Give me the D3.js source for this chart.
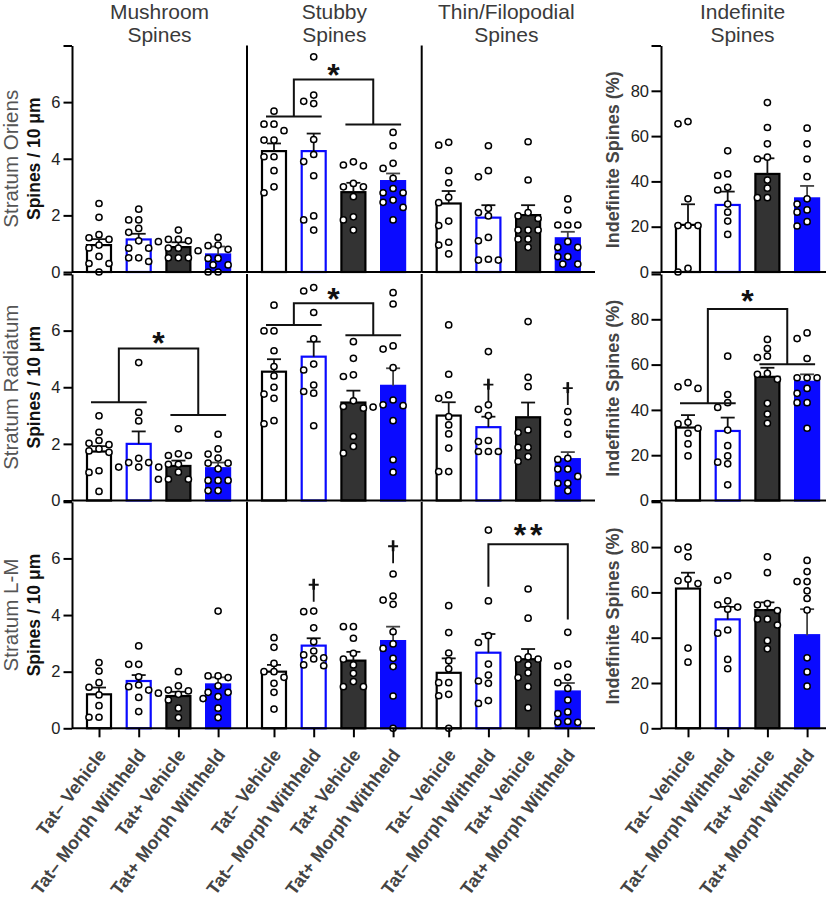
<!DOCTYPE html>
<html><head><meta charset="utf-8">
<script src="https://cdn.jsdelivr.net/npm/d3@7"></script>
<style>body{margin:0;background:#fff} text{font-family:"Liberation Sans",Arial,Helvetica,sans-serif}</style>
</head><body><svg id="chart" width="837" height="903"></svg>
<script>
// ---------------- DATA ----------------
const groups = ["Tat\u2013 Vehicle", "Tat\u2013 Morph Withheld", "Tat+ Vehicle", "Tat+ Morph Withheld"];
const columnTitles = [["Mushroom","Spines"],["Stubby","Spines"],["Thin/Filopodial","Spines"],["Indefinite","Spines"]];
const strata = ["Stratum Oriens","Stratum Radiatum","Stratum L-M"];
const spineAxisLabel = "Spines / 10 \u03bcm";
const pctAxisLabel = "Indefinite Spines (%)";
const spineTicks = [0,2,4,6,8];
const pctTicks = [0,20,40,60,80,100];

// means per column (mushroom, stubby, thin, indefinite) x group
const meanOriens   = [[0.95,1.15,0.88,0.62],[4.27,4.27,2.82,3.21],[2.42,1.92,2.01,1.19],[20.8,29.6,43.3,32.5]];
const semTopOriens = [[1.16,1.35,1.05,0.90],[4.54,4.89,3.15,3.48],[2.86,2.36,2.36,1.42],[29.9,35.5,50.2,38.0]];
const meanRadiatum   = [[1.73,2.00,1.22,1.14],[4.55,5.08,3.46,4.05],[3.00,2.59,2.94,1.46],[32.2,30.7,54.6,52.4]];
const semTopRadiatum = [[1.92,2.44,1.41,1.34],[4.99,5.61,3.88,4.67],[3.47,2.96,3.46,1.71],[37.7,36.6,58.6,55.7]];
const meanLM   = [[1.20,1.67,1.14,1.55],[2.00,2.92,2.39,3.08],[1.96,2.67,2.44,1.30],[61.7,48.1,52.2,41.1]];
const semTopLM = [[1.44,1.88,1.29,1.80],[2.24,3.18,2.70,3.59],[2.47,3.33,2.80,1.60],[68.7,53.6,55.6,52.6]];

const ptsOriens = [
  [[2.42,1.93,1.32,1.21,1.15,0.95,0.85,0.55,0.3,0.3,0.0],
   [2.22,1.84,1.84,1.54,1.4,1.1,0.84,0.84,0.5,0.5,0.37],
   [1.48,1.15,1.15,1.1,1.07,0.84,0.84,0.5,0.5,0.5],
   [1.22,0.95,0.93,0.8,0.75,0.48,0.48,0.25,0.25,0.0,0.0]],
  [[5.68,5.22,5.22,4.99,4.66,4.66,4.07,4.07,3.58,3.01,2.8],
   [7.6,6.25,6.03,5.95,4.68,4.15,3.9,3.4,1.98,1.84,1.48],
   [3.89,3.78,3.75,3.13,3.01,3.01,2.66,1.95,1.84,1.48],
   [4.93,4.46,3.84,3.66,3.31,2.95,2.8,2.8,2.54,2.46,2.28,1.84]],
  [[4.58,4.48,3.58,3.15,2.64,2.45,1.8,1.64,1.05,0.95,0.64],
   [4.46,3.58,3.36,2.25,2.1,1.98,1.22,1.1,0.45,0.42,0.42],
   [4.6,3.25,2.1,1.98,1.89,1.48,1.48,1.48,1.16,1.16,0.87],
   [2.58,2.19,1.66,1.66,1.66,1.07,0.87,0.87,0.54,0.54,0.28,0.28]],
  [[66.4,65.4,32.3,20.5,20.5,20.5,1.6,0],
   [53.5,43.3,42.6,37.4,36.2,30.0,26.4,22.5,16.6],
   [74.8,63.8,56.6,50.7,49.9,40.6,37.0,32.8,32.8],
   [63.5,56.6,49.9,42.1,32.3,30.0,27.4,26.4,22.2,20.3]]
];
const ptsRadiatum = [
  [[2.99,2.41,2.12,2.02,1.97,1.82,1.75,1.7,1.05,0.99,0.32],
   [4.87,3.11,2.81,1.49,1.34,1.34,1.18,1.18,1.18],
   [2.53,1.65,1.59,1.59,1.28,1.28,1.0,0.75,0.75,0.75],
   [2.34,1.82,1.64,1.5,1.32,1.32,1.12,0.71,0.71,0.71,0.35,0.35]],
  [[6.9,5.99,5.99,5.29,4.73,4.4,4.0,3.76,3.61,2.82,2.71],
   [7.52,7.4,6.64,5.71,4.82,4.61,4.08,3.85,3.79,2.64],
   [5.61,5.02,4.44,4.38,3.52,3.32,3.26,2.26,1.91,1.67],
   [7.34,6.94,5.46,5.35,4.69,3.55,3.38,3.35,3.3,2.82,1.44,1.0]],
  [[6.2,4.46,3.73,3.61,2.96,2.67,2.35,1.85,1.02,1.02],
   [5.26,3.38,3.22,3.0,2.12,2.08,1.73,1.73,1.73],
   [6.32,4.35,4.02,2.49,2.4,1.88,1.88,1.55,1.38],
   [3.14,2.76,2.34,1.49,1.45,1.11,1.11,0.85,0.61,0.61,0.34]],
  [[52.0,50.2,49.5,34.5,33.8,31.9,29.7,25.0,19.7],
   [63.7,46.8,43.2,41.1,31.1,24.2,19.7,16.9,16.2,6.9],
   [71.1,67.1,63.7,63.1,56.1,55.7,53.5,42.9,38.2,34.1],
   [74.0,71.5,62.7,54.2,54.2,54.2,49.5,47.3,43.2,43.2,31.9]]
];
const ptsLM = [
  [[2.32,2.02,1.61,1.45,1.18,0.8,0.39,0.39],
   [2.91,2.26,2.26,1.82,1.53,1.47,1.35,1.09,0.59],
   [2.0,1.5,1.35,1.32,1.24,1.2,1.0,0.71,0.38],
   [4.14,1.85,1.85,1.79,1.5,1.27,1.27,1.12,1.05,0.71,0.38]],
  [[3.2,2.86,2.29,2.0,2.0,1.8,1.59,1.27,0.68],
   [4.14,4.12,3.55,3.06,2.73,2.59,2.49,2.45,2.24,2.21],
   [3.59,3.59,3.18,2.65,2.44,2.24,1.94,1.65,1.47,1.47],
   [5.45,4.67,4.53,4.38,3.41,2.98,2.82,2.47,2.18,1.14,0]],
  [[4.33,3.38,2.66,2.39,2.1,1.61,1.61,1.2,1.15,0],
   [7.0,4.5,3.27,3.03,2.27,1.88,1.67,1.59,0.98,0.88],
   [4.92,3.89,2.52,2.44,2.44,2.24,1.96,1.79,1.47,0.73],
   [3.39,2.27,2.2,1.8,1.61,1.41,1.0,0.58,0.52,0.24,0.21,0.21]],
  [[80.0,79.0,75.7,65.8,65.1,63.9,35.4,29.2],
   [67.3,65.4,56.3,54.5,53.5,52.6,43.4,42.0,30.4,26.3],
   [75.7,68.7,55.1,54.5,52.0,48.2,48.2,45.6,38.7,35.1],
   [74.1,69.2,64.8,64.8,60.7,57.3,52.2,31.1,24.9,18.6]]
];

// significance annotations (values in data units)
const pairBrackets = [
  {row:0,col:1,yLeft:5.49,yRight:5.21,yTop:6.8,yLabel:7.2,label:"*"},
  {row:1,col:0,yLeft:3.47,yRight:3.02,yTop:5.37,yLabel:5.82,label:"*"},
  {row:1,col:1,yLeft:6.2,yRight:5.84,yTop:6.97,yLabel:7.35,label:"*"},
  {row:1,col:3,yLeft:42.9,yRight:60.2,yTop:84.5,yLabel:91.3,label:"*"}
];
const simpleBrackets = [
  {row:2,col:2,g1:1,g2:3,y1:5.0,y2:3.84,yTop:6.5,yLabel:7.07,label:"**"}
];
const daggers = [
  {row:1,col:2,group:1,y:3.49},{row:1,col:2,group:3,y:3.37},
  {row:2,col:1,group:1,y:4.47},{row:2,col:1,group:3,y:5.83}
];

const means = [meanOriens, meanRadiatum, meanLM];
const semTops = [semTopOriens, semTopRadiatum, semTopLM];
const points = [ptsOriens, ptsRadiatum, ptsLM];

// ---------------- STYLE / LAYOUT ----------------
const BLUE = "#0a0aff";
const barFill = ["#ffffff","#ffffff","#333333",BLUE];
const barStroke = ["#000000",BLUE,"#000000",BLUE];
const colX = [72, 247, 421.7, 661];
const colEnd = [247, 421.7, 595, 826];
const rowZero = [272, 500.5, 728.3];
const panelH = 226.5;
const firstOff = 27, step = 39.7, barW = 24;
const FONT = '"Liberation Sans", Arial, Helvetica, sans-serif';

const svg = d3.select("#chart");

function xScale(c){
  return d3.scalePoint().domain(groups).range([colX[c]+firstOff, colX[c]+firstOff+3*step]);
}
function yScale(r,c){
  return d3.scaleLinear().domain(c===3?[0,100]:[0,8]).range([rowZero[r], rowZero[r]-panelH]);
}

// column titles
columnTitles.forEach((t,c)=>{
  const cx = c===3 ? (colX[3]+colEnd[3])/2 - 1 : (colX[c]+colEnd[c])/2 - (c===2?2:0);
  const tt = svg.append("text").attr("x",cx).attr("text-anchor","middle")
     .attr("font-size",21).attr("fill","#3a3a3a");
  tt.append("tspan").attr("x",cx).attr("y",19).text(t[0]);
  tt.append("tspan").attr("x",cx).attr("y",42).text(t[1]);
});

function swarm(vals, y){
  const placed=[];
  const offs=[0,-10,10,-5,5,-15,15,-20,20];
  vals.slice().sort((a,b)=>b-a).forEach(v=>{
    const py=y(v); let ox=0;
    for(const o of offs){
      if(placed.every(p=>(p.x-o)**2+(p.y-py)**2>=56)){ox=o;break;}
    }
    placed.push({x:ox,y:py});
  });
  return placed;
}

for(let r=0;r<3;r++){
  const cyRow = rowZero[r]-panelH/2;
  // row labels
  svg.append("text").attr("transform",`translate(18,${cyRow}) rotate(-90)`)
    .attr("text-anchor","middle").attr("font-size",20.5).attr("fill","#555").text(strata[r]);
  svg.append("text").attr("transform",`translate(39.5,${cyRow}) rotate(-90)`)
    .attr("text-anchor","middle").attr("font-size",17.5).attr("font-weight","bold").attr("fill","#111").text(spineAxisLabel);
  svg.append("text").attr("transform",`translate(619,${cyRow+1}) rotate(-90)`)
    .attr("text-anchor","middle").attr("font-size",18).attr("font-weight","bold").attr("fill","#444").text(pctAxisLabel);

  for(let c=0;c<4;c++){
    const x = xScale(c), y = yScale(r,c);
    const g = svg.append("g");
    const mn = means[r][c], st = semTops[r][c], pts = points[r][c];
    // bars
    g.selectAll("rect.bar").data(groups).join("rect").attr("class","bar")
      .attr("x",d=>x(d)-barW/2).attr("width",barW)
      .attr("y",(d,i)=>y(mn[i])).attr("height",(d,i)=>y(0)-y(mn[i]))
      .attr("fill",(d,i)=>barFill[i]).attr("stroke",(d,i)=>barStroke[i]).attr("stroke-width",2.2);
    // error bars
    groups.forEach((d,i)=>{
      const col = i===3 ? "#444" : "#111";
      g.append("line").attr("x1",x(d)).attr("x2",x(d)).attr("y1",y(mn[i])).attr("y2",y(st[i]))
        .attr("stroke",col).attr("stroke-width",1.8);
      g.append("line").attr("x1",x(d)-7).attr("x2",x(d)+7).attr("y1",y(st[i])).attr("y2",y(st[i]))
        .attr("stroke",col).attr("stroke-width",1.8);
    });
    // points
    groups.forEach((d,i)=>{
      const sw = swarm(pts[i], y);
      g.selectAll(null).data(sw).join("circle")
        .attr("cx",p=>x(d)+p.x).attr("cy",p=>p.y).attr("r",3.1)
        .attr("fill","#fff").attr("stroke","#000").attr("stroke-width",1.5);
    });
    // baseline axis
    g.append("line").attr("x1",colX[c]).attr("x2",colEnd[c]).attr("y1",y(0)).attr("y2",y(0))
      .attr("stroke","#000").attr("stroke-width",2);
    // vertical axes
    if(c===0 || c===3){
      const ax = d3.axisLeft(y).tickValues(c===3?pctTicks:spineTicks)
        .tickFormat(v=>(c===3?v===100:v===8)?"":v).tickSize(c===3?9.5:8.5).tickPadding(c===3?2.5:3).tickSizeOuter(0);
      const ag = svg.append("g").attr("transform",`translate(${colX[c]},0)`).call(ax);
      ag.selectAll("path,line").attr("stroke","#000").attr("stroke-width",2);
      ag.selectAll("text").attr("font-size",16.5).attr("fill","#222").attr("font-family",FONT);
    } else {
      g.append("line").attr("x1",colX[c]).attr("x2",colX[c]).attr("y1",y(0)).attr("y2",y.range()[1])
        .attr("stroke","#000").attr("stroke-width",2);
    }
    // bottom ticks & labels
    if(r===2){
      const xa = d3.axisBottom(x).tickSize(9).tickFormat("");
      const xg = svg.append("g").attr("transform",`translate(0,${y(0)})`).call(xa);
      xg.select(".domain").remove();
      xg.selectAll("line").attr("stroke","#000").attr("stroke-width",2);
      groups.forEach(d=>{
        svg.append("text").attr("transform",`translate(${x(d)+8},755) rotate(-53)`)
          .attr("text-anchor","end").attr("font-size",18).attr("font-weight","bold").attr("fill","#444").text(d);
      });
    }
  }
}

// annotations
function star(xp, yp, label){
  svg.append("text").attr("x",xp).attr("y",yp+18).attr("text-anchor","middle")
    .attr("font-size",32).attr("font-weight","bold").attr("fill","#111")
    .attr("letter-spacing", label.length>1?"4px":"0px").text(label);
}
pairBrackets.forEach(b=>{
  const x=xScale(b.col), y=yScale(b.row,b.col);
  const x0=x(groups[0]), x1=x(groups[1]), x2=x(groups[2]), x3=x(groups[3]);
  const lm=(x0+x1)/2, rm=(x2+x3)/2;
  svg.append("line").attr("x1",x0-8).attr("x2",x1+8).attr("y1",y(b.yLeft)).attr("y2",y(b.yLeft)).attr("stroke","#111").attr("stroke-width",2);
  svg.append("line").attr("x1",x2-8).attr("x2",x3+8).attr("y1",y(b.yRight)).attr("y2",y(b.yRight)).attr("stroke","#111").attr("stroke-width",2);
  svg.append("path").attr("d",`M${lm},${y(b.yLeft)}V${y(b.yTop)}H${rm}V${y(b.yRight)}`)
    .attr("fill","none").attr("stroke","#111").attr("stroke-width",2);
  star((lm+rm)/2, y(b.yLabel), b.label);
});
simpleBrackets.forEach(b=>{
  const x=xScale(b.col), y=yScale(b.row,b.col);
  const a=x(groups[b.g1]), c=x(groups[b.g2]);
  svg.append("path").attr("d",`M${a},${y(b.y1)}V${y(b.yTop)}H${c}V${y(b.y2)}`)
    .attr("fill","none").attr("stroke","#111").attr("stroke-width",2);
  star((a+c)/2+2, y(b.yLabel), b.label);
});
daggers.forEach(d=>{
  const x=xScale(d.col), y=yScale(d.row,d.col);
  const cx=x(groups[d.group]), yb=y(d.y);
  svg.append("path").attr("d",`M${cx},${yb}V${yb-22}M${cx-5},${yb-17}H${cx+5}`)
    .attr("stroke","#111").attr("stroke-width",1.8).attr("fill","none");
  svg.append("path").attr("d",`M${cx},${yb-23}V${yb-12}`).attr("stroke","#111").attr("stroke-width",2.6);
});
</script></body></html>
